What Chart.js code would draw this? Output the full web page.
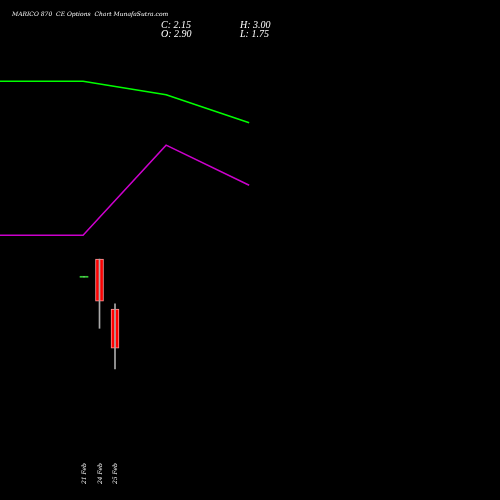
<!DOCTYPE html>
<html lang="en">
  <head>
    <meta charset="UTF-8" />
    <title>MARICO 870 CE</title>
    <style>
      body { margin: 0; background: #000; }
      #wrap { width: 500px; height: 500px; }
    </style>
  </head>
  <body>
    <div id="wrap"><canvas id="myChart"></canvas></div>
    <script src="https://cdn.jsdelivr.net/npm/chart.js"></script>
    <script>
      // candles
      const dates = ["21 Feb", "24 Feb", "25 Feb"];
      const opens = [3.52, 3.86, 2.9];
      const closes = [3.52, 3.05, 2.15];
      const highs = [3.52, 3.86, 3.0];
      const lows = [3.52, 2.53, 1.75];
      // moving average lines
      const lineX = [0, 1, 2, 3];
      const greenLine = [7.28, 7.28, 7.02, 6.48];
      const purpleLine = [4.32, 4.32, 6.05, 5.28];

      const bodies = dates.map((d, i) => ({
        x: i,
        y: opens[i] === closes[i] ? [opens[i] - 0.01, opens[i] + 0.01] : [opens[i], closes[i]],
      }));
      const wicks = dates.map((d, i) => ({ x: i, y: [lows[i], highs[i]] }));
      const bodyColors = dates.map((d, i) => (opens[i] === closes[i] ? "#3c3" : closes[i] < opens[i] ? "#ff0000" : "#00cc00"));

      const textPlugin = {
        id: "texts",
        afterDraw(chart) {
          const ctx = chart.ctx;
          const xs = chart.scales.xc;
          ctx.save();
          ctx.fillStyle = "#ffffff";
          ctx.font = "italic 6px 'DejaVu Serif', serif";
          ctx.fillText("MARICO 870  CE Options  Chart MunafaSutra.com", 12, 16);
          ctx.font = "italic 10px 'Liberation Serif', serif";
          ctx.fillText("C: 2.15", 161, 28);
          ctx.fillText("O: 2.90", 161, 37);
          ctx.fillText("H: 3.00", 240, 28);
          ctx.fillText("L: 1.75", 240, 37);
          ctx.font = "italic 6px 'DejaVu Serif', serif";
          dates.forEach((d, i) => {
            ctx.save();
            ctx.translate(xs.getPixelForValue(i) + 2, 484);
            ctx.rotate(-Math.PI / 2);
            ctx.fillText(d, 0, 0);
            ctx.restore();
          });
          ctx.restore();
        },
      };

      const config = {
        data: {
          datasets: [
            {
              type: "line",
              data: lineX.map((x, i) => ({ x, y: greenLine[i] })),
              borderColor: "#00ff00",
              borderWidth: 1.5,
              pointRadius: 0,
              xAxisID: "xl",
            },
            {
              type: "line",
              data: lineX.map((x, i) => ({ x, y: purpleLine[i] })),
              borderColor: "#cc00cc",
              borderWidth: 1.5,
              pointRadius: 0,
              xAxisID: "xl",
            },
            {
              type: "bar",
              data: wicks,
              backgroundColor: "#aaaaaa",
              barThickness: 1,
              xAxisID: "xc",
              grouped: false,
            },
            {
              type: "bar",
              data: bodies,
              backgroundColor: bodyColors,
              borderColor: dates.map((d, i) => (opens[i] === closes[i] ? "#3c3" : "#ff9999")),
              borderWidth: dates.map((d, i) => (opens[i] === closes[i] ? 0 : 1)),
              borderSkipped: false,
              barThickness: dates.map((d, i) => (opens[i] === closes[i] ? 8 : 10)),
              xAxisID: "xc",
              grouped: false,
            },
          ],
        },
        options: {
          responsive: true,
          maintainAspectRatio: false,
          animation: false,
          layout: { padding: 0 },
          plugins: { legend: { display: false }, tooltip: { enabled: false } },
          scales: {
            xl: { type: "linear", min: 0, max: 6.02, display: false, offset: false },
            xc: { type: "linear", min: -5.42, max: 26.84, display: false, offset: false },
            y: { type: "linear", min: -0.77, max: 8.84, display: false },
          },
        },
        plugins: [textPlugin],
      };

      const myChart = new Chart(document.getElementById("myChart"), config);
    </script>
  </body>
</html>
